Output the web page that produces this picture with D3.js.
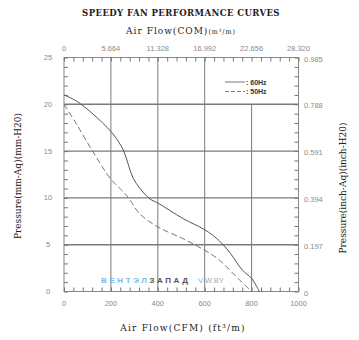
<!DOCTYPE html>
<html><head><meta charset="utf-8">
<script src="https://cdn.jsdelivr.net/npm/d3@7"></script>
<style>body{margin:0;background:#fff}svg{display:block}</style>
</head><body>
<svg id="c" width="359" height="340"></svg>
<script>
const cfmTicks = [0, 200, 400, 600, 800, 1000];
const cmmLabels = ["0", "5.664", "11.328", "16.992", "22.656", "28.320"];
const mmTicks = [0, 5, 10, 15, 20, 25];
const inchLabels = ["0", "0.197", "0.394", "0.591", "0.788", "0.985"];
const cfm60 = [0, 53, 124, 200, 230, 255, 275, 295, 323, 366, 404, 507, 600, 663, 710, 760, 800, 833];
const p60 = [21.0, 20.35, 18.95, 17.1, 16.1, 15.0, 13.5, 12.1, 11.05, 9.9, 9.4, 7.8, 6.6, 5.4, 4.06, 2.3, 1.4, 0];
const cfm50 = [0, 53, 124, 200, 251, 275, 323, 400, 507, 600, 663, 735, 800];
const p50 = [20.0, 17.9, 14.9, 12.0, 10.7, 10.0, 8.3, 6.9, 5.65, 4.4, 3.35, 1.57, 0];
const legendLabels = [": 60Hz", ": 50Hz"];

const svg = d3.select("#c");
const x = d3.scaleLinear().domain([0, 1000]).range([64, 298.5]);
const y = d3.scaleLinear().domain([0, 25]).range([291.5, 57.5]);
const gridCol = "#7a7a7a", lblCol = "#8a8a8a";
const tickFont = "'Liberation Sans', Arial, sans-serif";
const serif = "'DejaVu Serif Condensed','DejaVu Serif',serif";

// Titles
svg.append("text").attr("x", 181).attr("y", 16).attr("text-anchor", "middle")
  .attr("font-family", serif).attr("font-weight", "bold")
  .attr("font-size", 9.5).attr("letter-spacing", 0.4).attr("fill", "#222").text("SPEEDY FAN PERFORMANCE CURVES");
const t2 = svg.append("text").attr("x", 181).attr("y", 34).attr("text-anchor", "middle")
  .attr("font-family", serif).attr("fill", "#222").attr("letter-spacing", 1);
t2.append("tspan").attr("font-size", 10).text("Air Flow(COM)");
t2.append("tspan").attr("font-size", 7).text("(m³/m)");
svg.append("text").attr("x", 183).attr("y", 331).attr("text-anchor", "middle")
  .attr("font-family", serif).attr("fill", "#222")
  .attr("font-size", 10).attr("letter-spacing", 1.2).text("Air Flow(CFM) (ft³/m)");
svg.append("text").attr("transform", "translate(21,176) rotate(-90)").attr("text-anchor", "middle")
  .attr("font-family", serif).attr("fill", "#222")
  .attr("font-size", 10).text("Pressure(mm-Aq)(mm-H20)");
svg.append("text").attr("transform", "translate(346,188) rotate(-90)").attr("text-anchor", "middle")
  .attr("font-family", serif).attr("fill", "#222")
  .attr("font-size", 10).text("Pressure(inch-Aq)(inch-H20)");

// Grid
const g = svg.append("g");
mmTicks.filter(d => d > 0 && d < 25).forEach(d => {
  g.append("line").attr("x1", x(0)).attr("x2", x(1000)).attr("y1", y(d)).attr("y2", y(d))
    .attr("stroke", gridCol).attr("stroke-width", 1.4);
});
cfmTicks.filter(d => d > 0 && d < 1000).forEach(d => {
  g.append("line").attr("x1", x(d)).attr("x2", x(d)).attr("y1", y(0)).attr("y2", d === 800 ? y(20) : y(25))
    .attr("stroke", gridCol).attr("stroke-width", 1);
});
// Border
g.append("rect").attr("x", x(0)).attr("y", y(25)).attr("width", x(1000) - x(0)).attr("height", y(0) - y(25))
  .attr("fill", "none").attr("stroke", "#888").attr("stroke-width", 1);

// Axes with inner minor ticks
const minorX = d3.range(0, 1001, 40);
const minorY = d3.range(0, 26, 1);
const axB = d3.axisBottom(x).tickValues(minorX).tickSize(-4).tickFormat("");
const axT = d3.axisTop(x).tickValues(minorX).tickSize(-4).tickFormat("");
const axL = d3.axisLeft(y).tickValues(minorY).tickSize(-4).tickFormat("");
const axR = d3.axisRight(y).tickValues(minorY).tickSize(-4).tickFormat("");
[[axB, `translate(0,${y(0)})`], [axT, `translate(0,${y(25)})`], [axL, `translate(${x(0)},0)`], [axR, `translate(${x(1000)},0)`]]
  .forEach(([a, tr]) => {
    const s = svg.append("g").attr("transform", tr).call(a);
    s.select(".domain").remove();
    s.selectAll("line").attr("stroke", "#777");
  });

// Tick labels
const lab = svg.append("g").attr("font-family", tickFont).attr("font-size", 7.5).attr("fill", lblCol);
cfmTicks.forEach((d, i) => {
  lab.append("text").attr("x", x(d)).attr("y", 306).attr("text-anchor", "middle").text(d);
  lab.append("text").attr("x", x(d)).attr("y", 51).attr("text-anchor", "middle").text(cmmLabels[i]);
});
mmTicks.forEach((d, i) => {
  lab.append("text").attr("x", 48).attr("y", y(d) + 2.5).attr("text-anchor", "middle").text(d);
  lab.append("text").attr("x", 304).attr("y", y(d) + 4).attr("text-anchor", "start").text(inchLabels[i]);
});

// Curves
const line = d3.line().x(d => x(d[0])).y(d => y(d[1])).curve(d3.curveCatmullRom.alpha(0.5));
svg.append("path").datum(cfm60.map((c, i) => [c, p60[i]])).attr("d", line)
  .attr("fill", "none").attr("stroke", "#555").attr("stroke-width", 1);
svg.append("path").datum(cfm50.map((c, i) => [c, p50[i]])).attr("d", line)
  .attr("fill", "none").attr("stroke", "#666").attr("stroke-width", 0.9).attr("stroke-dasharray", "6,3");

// Legend
const lg = svg.append("g").attr("font-family", tickFont).attr("font-size", 7).attr("font-weight", "bold").attr("fill", "#333");
[0, 1].forEach(i => {
  const yy = 82 + i * 9.5;
  lg.append("line").attr("x1", 225).attr("x2", 245).attr("y1", yy).attr("y2", yy)
    .attr("stroke", "#555").attr("stroke-width", 0.8).attr("stroke-dasharray", i ? "4,2" : null);
  lg.append("text").attr("x", 246).attr("y", yy + 2.5).text(legendLabels[i]);
});

// Watermark
const wm = svg.append("text").attr("x", 101).attr("y", 283).attr("font-family", tickFont)
  .attr("font-size", 8).attr("font-weight", "bold").attr("letter-spacing", 2.6);
wm.append("tspan").attr("fill", "#7db7e2").text("ВЕНТЭЛ");
wm.append("tspan").attr("fill", "#555").text("ЗАПАД");
const wm2 = svg.append("text").attr("x", 198).attr("y", 283).attr("font-family", tickFont).attr("font-size", 7.5);
wm2.append("tspan").attr("fill", "#7db7e2").text("V");
wm2.append("tspan").attr("fill", "#9aaabb").text("-W.BY");
</script>
</body></html>
